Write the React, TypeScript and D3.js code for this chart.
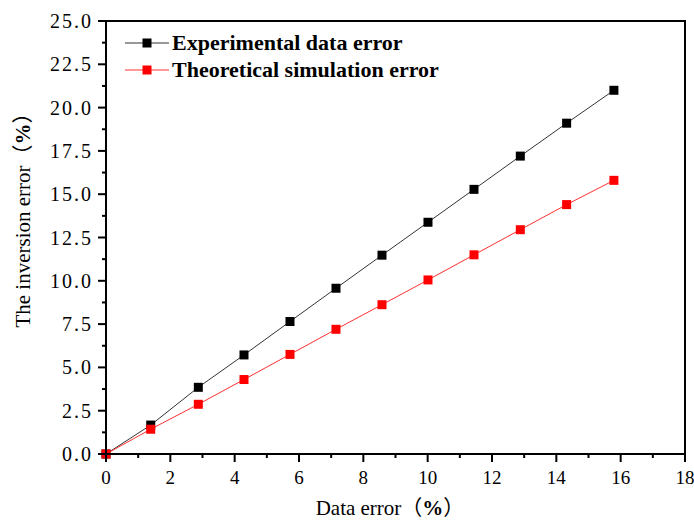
import React from "react";
import * as d3 from "d3";

const xValues = [0, 1.39, 2.87, 4.29, 5.72, 7.15, 8.58, 10.01, 11.44, 12.88, 14.32, 15.79];
const expValues = [0, 1.67, 3.85, 5.72, 7.65, 9.57, 11.48, 13.38, 15.28, 17.2, 19.1, 21.0];
const theoValues = [0, 1.43, 2.87, 4.3, 5.75, 7.2, 8.62, 10.05, 11.5, 12.95, 14.4, 15.8];
const xTicks = [0, 2, 4, 6, 8, 10, 12, 14, 16, 18];
const yTicks = [0, 2.5, 5, 7.5, 10, 12.5, 15, 17.5, 20, 22.5, 25];
const seriesNames = ["Experimental data error", "Theoretical simulation error"];
const xTitle = "Data error";
const yTitle = "The inversion error";

const W = 694, H = 520;
const L = 106, R = 685, T = 21, B = 454;

export default function App() {
  const x = d3.scaleLinear().domain([0, 18]).range([L, R]);
  const y = d3.scaleLinear().domain([0, 25]).range([B, T]);
  const line = d3.line<[number, number]>().x(d => x(d[0])).y(d => y(d[1]));
  const series = [
    { name: seriesNames[0], vals: expValues, stroke: "#333", fill: "#000" },
    { name: seriesNames[1], vals: theoValues, stroke: "#ff3030", fill: "#ff0000" },
  ];
  const xMinor = d3.range(1, 18, 2);
  const yMinor = d3.range(1.25, 25, 2.5);
  const ms = 9;
  return (
    <svg width={W} height={H} style={{ position: "absolute", left: 0, top: 0, background: "#fff" }}>
      <rect x={0} y={0} width={W} height={H} fill="#fff" />
      {series.map((s, i) => (
        <g key={i}>
          <path d={line(xValues.map((v, j) => [v, s.vals[j]]) as [number, number][]) || ""} fill="none" stroke={s.stroke} strokeWidth={1} />
          {xValues.map((v, j) => (
            <rect key={j} x={x(v) - ms / 2} y={y(s.vals[j]) - ms / 2} width={ms} height={ms} fill={s.fill} />
          ))}
        </g>
      ))}
      <rect x={L} y={T} width={R - L} height={B - T} fill="none" stroke="#000" strokeWidth={2} />
      {xTicks.map(t => (
        <g key={t}>
          <line x1={x(t)} x2={x(t)} y1={B} y2={B + 8} stroke="#000" strokeWidth={2} />
          <text x={x(t)} y={484} textAnchor="middle" fontFamily="'Liberation Serif', serif" fontSize={19}>{t}</text>
        </g>
      ))}
      {xMinor.map(t => (
        <line key={t} x1={x(t)} x2={x(t)} y1={B} y2={B + 4} stroke="#000" strokeWidth={2} />
      ))}
      {yTicks.map(t => (
        <g key={t}>
          <line x1={L - 8} x2={L} y1={y(t)} y2={y(t)} stroke="#000" strokeWidth={2} />
          <text x={93} y={y(t) + 7} textAnchor="end" fontFamily="'Liberation Serif', serif" fontSize={20} letterSpacing={2}>{t.toFixed(1)}</text>
        </g>
      ))}
      {yMinor.map(t => (
        <line key={t} x1={L - 4} x2={L} y1={y(t)} y2={y(t)} stroke="#000" strokeWidth={2} />
      ))}
      <text x={390} y={515} textAnchor="middle" fontFamily="'Liberation Serif', serif" fontSize={21}>
        {xTitle}
        <tspan fontFamily="'Noto Sans CJK SC'">（</tspan>
        <tspan fontWeight="bold">%</tspan>
        <tspan fontFamily="'Noto Sans CJK SC'">）</tspan>
      </text>
      <text transform={`translate(30,215) rotate(-90)`} textAnchor="middle" fontFamily="'Liberation Serif', serif" fontSize={21}>
        {yTitle}
        <tspan fontFamily="'Noto Sans CJK SC'">（</tspan>
        <tspan fontWeight="bold">%</tspan>
        <tspan fontFamily="'Noto Sans CJK SC'">）</tspan>
      </text>
      {series.map((s, i) => {
        const ly = 43 + i * 27;
        return (
          <g key={i}>
            <line x1={125} x2={169} y1={ly} y2={ly} stroke={s.stroke} strokeWidth={1} />
            <rect x={147 - ms / 2} y={ly - ms / 2} width={ms} height={ms} fill={s.fill} />
            <text x={172} y={ly + 7} fontFamily="'Liberation Serif', serif" fontWeight="bold" fontSize={22}>{s.name}</text>
          </g>
        );
      })}
    </svg>
  );
}
